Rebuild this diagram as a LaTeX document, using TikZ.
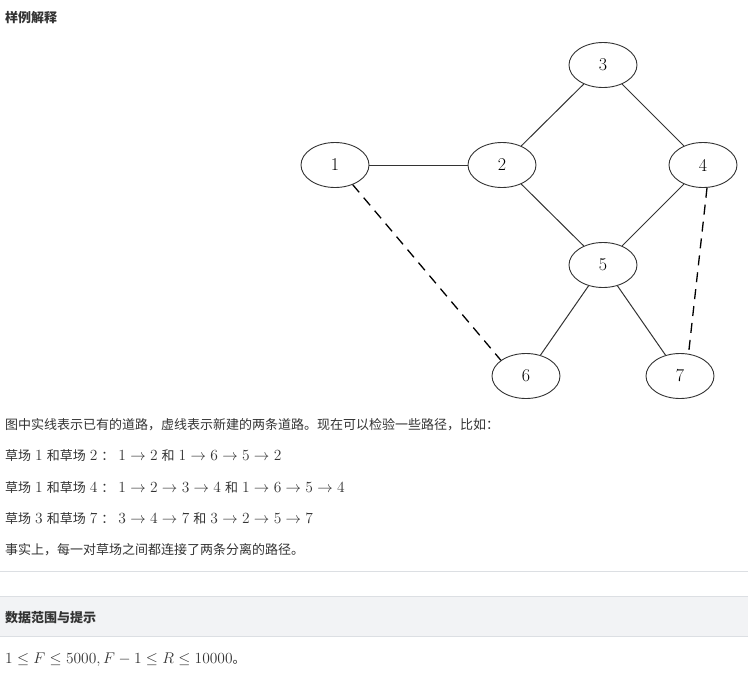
\RequirePackage{fix-cm}
\documentclass[tikz,border=0pt]{standalone}
\usepackage{amsmath}
\usepackage{fontspec}
\newfontfamily\cjk{Noto Sans CJK SC}
\usetikzlibrary{shapes.geometric}
\definecolor{txt}{HTML}{333333}
\definecolor{band}{HTML}{F2F3F5}
\definecolor{rulegray}{HTML}{DCDFE3}
\newcommand\km[1]{{\fontsize{15.5}{15}\selectfont$#1$}}
\newcommand\kms[1]{\hspace{4pt}\km{#1}\hspace{4pt}}
\begin{document}
\begin{tikzpicture}[x=1pt,y=-1pt,
  field/.style={ellipse, draw=black!80, line width=0.9pt, minimum width=68pt, minimum height=45pt, inner sep=0pt, font=\fontsize{18}{18}\selectfont},
  road/.style={draw=black!80, line width=1pt},
  newroad/.style={draw=black, line width=1.3pt, dash pattern=on 10pt off 7pt},
  para/.style={anchor=base west, inner sep=0pt, text=txt, font=\cjk\fontsize{13}{13}\selectfont},
  head/.style={para, font=\cjk\bfseries\fontsize{13}{13}\selectfont}]
\useasboundingbox (0,0) rectangle (748,678);
%
\node[head] (title) at (5,22) {样例解释};
%
\node[field] (f1) at (335,165) {1};
\node[field] (f2) at (502,165) {2};
\node[field] (f3) at (603,65) {3};
\node[field] (f4) at (703,165) {4};
\node[field] (f5) at (603,265) {5};
\node[field] (f6) at (526,376) {6};
\node[field] (f7) at (680,376) {7};
%
\draw[road] (f1)--(f2);
\draw[road] (f2)--(f3);
\draw[road] (f3)--(f4);
\draw[road] (f2)--(f5);
\draw[road] (f4)--(f5);
\draw[road] (f5)--(f6);
\draw[road] (f5)--(f7);
%
\draw[newroad] (f1.-48)--(f6.148);
\draw[newroad] (f4.-80)--(f7.69);
%
\node[para] (p1) at (5,429) {图中实线表示已有的道路，虚线表示新建的两条道路。现在可以检验一些路径，比如：};
\node[para] (p2) at (5,460) {草场\kms{1}和草场\kms{2}：\kms{1\to2}和\kms{1\to6\to5\to2}};
\node[para] (p3) at (5,492) {草场\kms{1}和草场\kms{4}：\kms{1\to2\to3\to4}和\kms{1\to6\to5\to4}};
\node[para] (p4) at (5,523) {草场\kms{3}和草场\kms{7}：\kms{3\to4\to7}和\kms{3\to2\to5\to7}};
\node[para] (p5) at (5,554) {事实上，每一对草场之间都连接了两条分离的路径。};
%
\draw[rulegray] (0,571)--(748,571);
\fill[band] (0,596) rectangle (748,636);
\draw[rulegray] (0,596)--(748,596);
\draw[rulegray] (0,636)--(748,636);
\node[head] (hint) at (5,622) {数据范围与提示};
%
\node[para] (range) at (5,663) {\km{1\le F\le 5000, F-1\le R\le 10000}。};
\end{tikzpicture}
\end{document}
